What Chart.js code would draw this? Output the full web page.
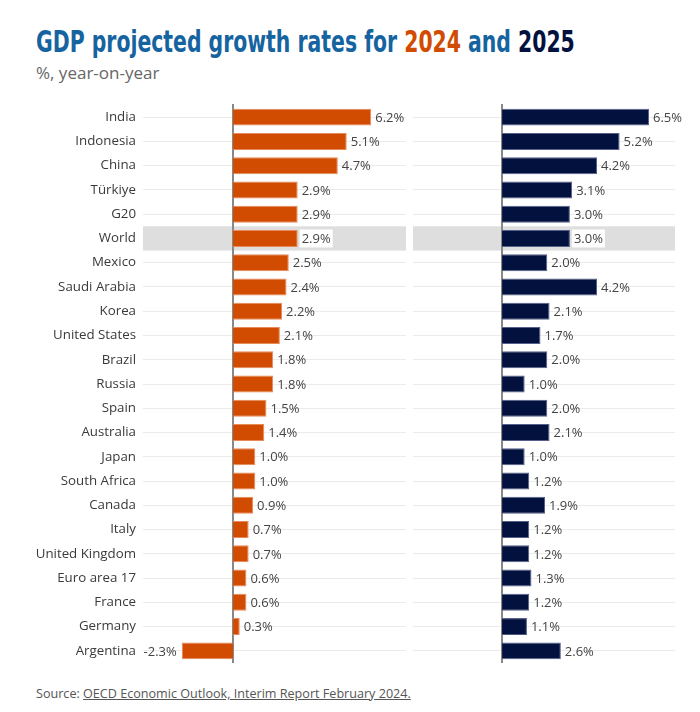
<!DOCTYPE html>
<html>
<head>
<meta charset="utf-8">
<script src="https://cdn.jsdelivr.net/npm/chart.js@4"></script>
<style>
  body { margin: 0; background: #fff; width: 700px; height: 712px; position: relative; overflow: hidden; font-family: "Open Sans", sans-serif; }
  #title { position: absolute; left: 36px; top: 26px; font: bold 31px "DejaVu Sans Condensed", sans-serif; line-height: 31px; white-space: nowrap; transform-origin: left top; color: #16649f; }
  #subtitle { position: absolute; left: 36px; top: 64px; font-size: 17px; line-height: 17px; color: #666; }
  #source { position: absolute; left: 36px; top: 687px; font-size: 12.6px; line-height: 13px; color: #555; }
  #source span { text-decoration: underline; }
  canvas { position: absolute; top: 100px; }
  #left { left: 0; }
  #right { left: 410px; }
</style>
</head>
<body>
<div id="title">GDP projected growth rates for <span style="color:#d14b00">2024</span> and <span style="color:#03113e">2025</span></div>
<div id="subtitle">%, year-on-year</div>
<canvas id="left" width="410" height="570"></canvas>
<canvas id="right" width="290" height="570"></canvas>
<div id="source">Source: <span>OECD Economic Outlook, Interim Report February 2024.</span></div>
<script>
// --- data ---
const categories = ['India', 'Indonesia', 'China', 'Türkiye', 'G20', 'World', 'Mexico', 'Saudi Arabia', 'Korea',
    'United States', 'Brazil', 'Russia', 'Spain', 'Australia', 'Japan', 'South Africa', 'Canada', 'Italy',
    'United Kingdom', 'Euro area 17', 'France', 'Germany', 'Argentina'];
const growth2024 = [6.2, 5.1, 4.7, 2.9, 2.9, 2.9, 2.5, 2.4, 2.2, 2.1, 1.8, 1.8, 1.5, 1.4, 1.0, 1.0, 0.9, 0.7, 0.7, 0.6, 0.6, 0.3, -2.3];
const growth2025 = [6.5, 5.2, 4.2, 3.1, 3.0, 3.0, 2.0, 4.2, 2.1, 1.7, 2.0, 1.0, 2.0, 2.1, 1.0, 1.2, 1.9, 1.2, 1.2, 1.3, 1.2, 1.1, 2.6];
const highlight = 'World';

// fit the condensed title to the reference width
const titleEl = document.getElementById('title');
titleEl.style.transform = 'scaleX(' + (539 / titleEl.offsetWidth) + ')';

// grey band behind the highlighted row + zero line
const bandPlugin = {
    id: 'band',
    beforeDatasetsDraw(chart) {
        const { ctx, chartArea, scales } = chart;
        const y = scales.y.getPixelForValue(categories.indexOf(highlight));
        const step = chartArea.height / categories.length;
        ctx.save();
        ctx.fillStyle = '#dedede';
        ctx.fillRect(chartArea.left, y - step / 2, chartArea.right - chartArea.left, step);
        const x0 = Math.round(scales.x.getPixelForValue(0));
        ctx.fillStyle = '#888';
        ctx.fillRect(x0 - 1, chartArea.top - 1, 2, chartArea.height + 1);
        ctx.restore();
    }
};

// value labels at bar ends
const labelPlugin = {
    id: 'vals',
    afterDatasetsDraw(chart) {
        const { ctx } = chart;
        const meta = chart.getDatasetMeta(0);
        const data = chart.data.datasets[0].data;
        ctx.save();
        ctx.font = '13px "Open Sans"';
        ctx.textBaseline = 'middle';
        meta.data.forEach((bar, i) => {
            const v = data[i];
            const txt = v.toFixed(1) + '%';
            const w = ctx.measureText(txt).width;
            let x = v < 0 ? bar.x - 5 - w : bar.x + 4;
            if (categories[i] === highlight) {
                ctx.fillStyle = '#fff';
                ctx.fillRect(x - 2, bar.y - 9, w + 4, 18);
            }
            ctx.fillStyle = '#444';
            ctx.textAlign = 'left';
            ctx.fillText(txt, x, bar.y + 1);
        });
        ctx.restore();
    }
};

function makeChart(id, values, color, border, opts) {
    return new Chart(document.getElementById(id), {
        type: 'bar',
        data: {
            labels: categories,
            datasets: [{ data: values, backgroundColor: color, borderColor: border, borderWidth: 1,
                         categoryPercentage: 0.7, barPercentage: 1 }]
        },
        options: {
            indexAxis: 'y',
            responsive: false,
            animation: false,
            layout: { padding: opts.padding },
            plugins: { legend: { display: false }, tooltip: { enabled: false } },
            scales: {
                x: { display: false, min: opts.min, max: opts.max },
                y: {
                    border: { display: false },
                    grid: { offset: false, color: '#ebebeb', drawTicks: false },
                    ticks: { display: opts.showLabels, padding: 7, color: '#3a3a3a', font: { family: 'Open Sans', size: 13.3 } },
                    afterFit: s => { s.width = opts.axisWidth; s.paddingTop = 0; s.paddingBottom = 0; }
                }
            }
        },
        plugins: [bandPlugin, labelPlugin]
    });
}

makeChart('left', growth2024, '#d14b00', '#e8895a',
    { min: -4.04, max: 7.76, padding: { left: 0, right: 4, top: 5, bottom: 7 }, showLabels: true, axisWidth: 143 });
makeChart('right', growth2025, '#03113e', '#56608a',
    { min: -3.94, max: 7.65, padding: { left: 3, right: 25, top: 5, bottom: 7 }, showLabels: false, axisWidth: 0 });
</script>
</body>
</html>
